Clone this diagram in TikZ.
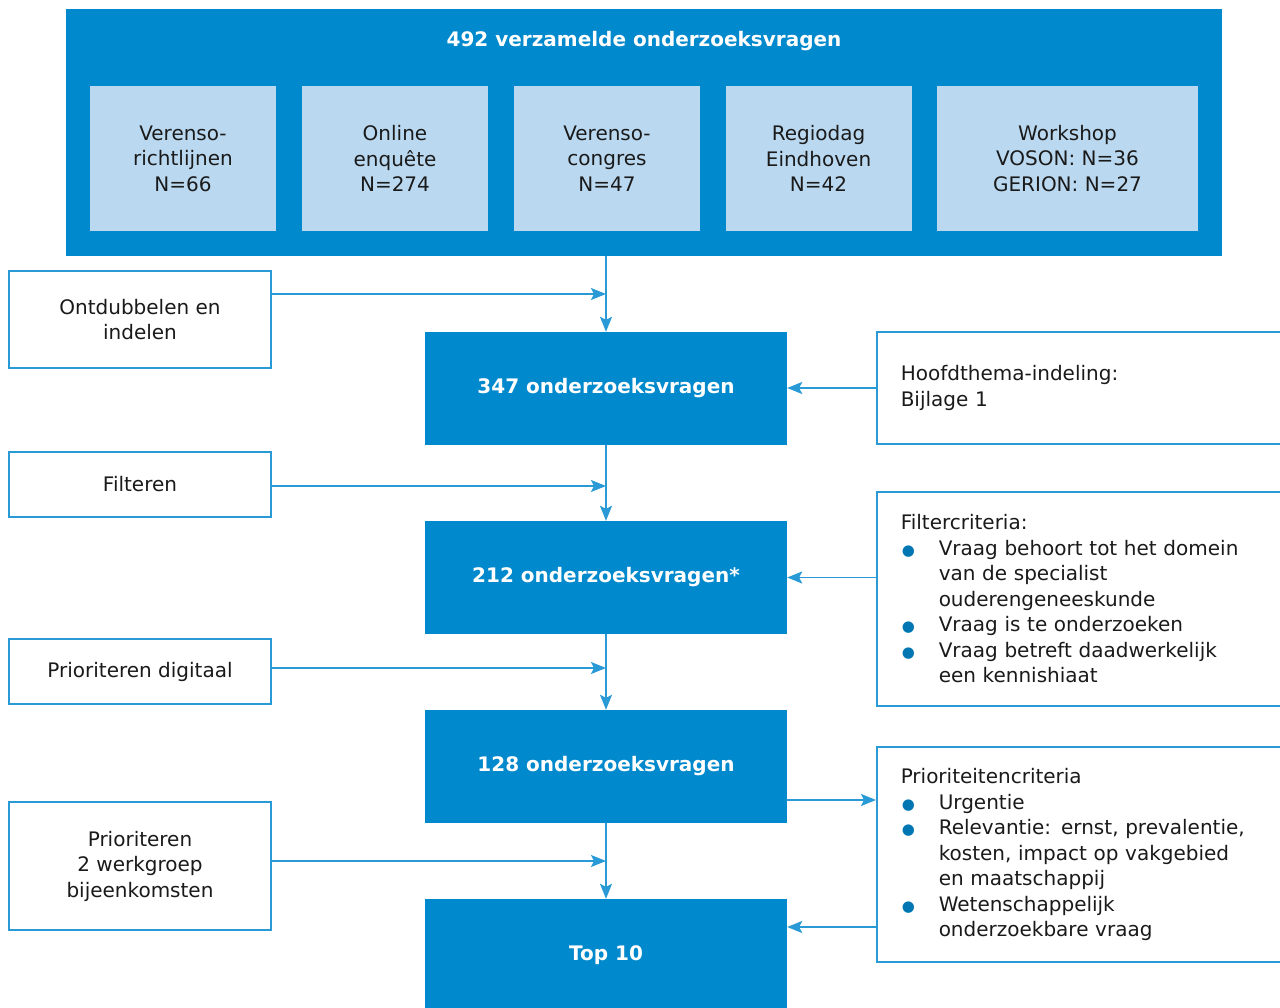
\documentclass[tikz,border=0pt]{standalone}
\usepackage{fontspec}
\setmainfont{DejaVu Sans}
\usetikzlibrary{arrows.meta}
\definecolor{vgblue}{HTML}{0089CC}
\definecolor{vglight}{HTML}{BAD9F1}
\definecolor{vgline}{HTML}{2A9AD6}
\definecolor{vgdot}{HTML}{0077B3}
\definecolor{vgtext}{HTML}{1A1A1A}
\newcommand\blt{\makebox[38pt][l]{\hspace{1pt}{\fontsize{15}{15}\selectfont\textcolor{vgdot}{●}}}}
\newcommand\ind{\hspace*{38pt}}

\begin{document}
\begin{tikzpicture}[x=1pt, y=-1pt,
  every node/.style={font=\fontsize{20}{25.5}\selectfont, text=vgtext},
  bron/.style={fill=vglight, minimum height=145pt, align=center, inner sep=0pt},
  stap/.style={draw=vgline, line width=1.5pt, fill=white, minimum width=262pt, align=center, inner sep=0pt},
  aantal/.style={fill=vgblue, minimum width=362pt, minimum height=113pt, text=white,
    font=\fontsize{20}{25.5}\selectfont\bfseries},
  crit/.style={draw=vgline, line width=1.5pt, anchor=west, text width=372pt, inner xsep=24pt, align=left},
  pijl/.style={draw=vgline, line width=1.5pt, -{Stealth[length=15pt,width=12pt,inset=3pt]}}]
  \useasboundingbox (0,0) rectangle (1280,1008);
  \clip (0,0) rectangle (1280,1008);

  \node[fill=vgblue, minimum width=1156pt, minimum height=247pt] (verz) at (644,132.5) {};
  \node[text=white, font=\fontsize{20}{25.5}\selectfont\bfseries] (titel) at (644,41.5) {492 verzamelde onderzoeksvragen};
  \foreach \x/\w/\naam/\tekst in {183/186pt/richtl/{Verenso-\\richtlijnen\\N=66},
      395/186pt/enq/{Online\\enquête\\N=274}, 607/186pt/congres/{Verenso-\\congres\\N=47},
      818.5/186pt/regio/{Regiodag\\Eindhoven\\N=42}, 1067.5/261pt/works/{Workshop\\VOSON: N=36\\GERION: N=27}}
    \node[bron, minimum width=\w] (\naam) at (\x,158.5) {\tekst};

  \node[stap, minimum height=97pt] (ontdub) at (140,319.5) {Ontdubbelen en\\indelen};
  \node[stap, minimum height=65pt] (filter) at (140,484.5) {Filteren};
  \node[stap, minimum height=65pt] (digi) at (140,671.5) {Prioriteren digitaal};
  \node[stap, minimum height=128pt] (werkgr) at (140,866) {Prioriteren\\2 werkgroep\\bijeenkomsten};

  \node[aantal] (n347) at (606,388.5) {\raisebox{-2pt}{347 onderzoeksvragen}};
  \node[aantal] (n212) at (606,577.5) {\raisebox{-2pt}{212 onderzoeksvragen*}};
  \node[aantal] (n128) at (606,766.5) {\raisebox{-2pt}{128 onderzoeksvragen}};
  \node[aantal] (top) at (606,955.5) {\raisebox{-2pt}{Top 10}};

  \node[crit, minimum height=112pt] (thema) at (876,388) {Hoofdthema-indeling:\\Bijlage 1};
  \node[crit, minimum height=214pt] (filtcrit) at (876,599) {Filtercriteria:\\
    \blt Vraag behoort tot het domein\\\ind van de specialist\\\ind ouderengeneeskunde\\
    \blt Vraag is te onderzoeken\\
    \blt Vraag betreft daadwerkelijk\\\ind een kennishiaat};
  \node[crit, minimum height=215pt] (priocrit) at (876,854.5) {Prioriteitencriteria\\
    \blt Urgentie\\
    \blt Relevantie: ernst, prevalentie,\\\ind kosten, impact op vakgebied\\\ind en maatschappij\\
    \blt Wetenschappelijk\\\ind onderzoekbare vraag};

  \coordinate (j1) at (606,294);
  \coordinate (j2) at (606,486);
  \coordinate (j3) at (606,668);
  \coordinate (j4) at (606,861);
  \coordinate (k1) at (876,800);
  \coordinate (k2) at (876,927);

  \draw[pijl] (verz.south -| n347) -- (n347.north);
  \draw[pijl] (n347) -- (n212);
  \draw[pijl] (n212) -- (n128);
  \draw[pijl] (n128) -- (top);
  \draw[pijl] (ontdub.east |- j1) -- (j1);
  \draw[pijl] (filter.east |- j2) -- (j2);
  \draw[pijl] (digi.east |- j3) -- (j3);
  \draw[pijl] (werkgr.east |- j4) -- (j4);
  \draw[pijl] (thema.west) -- (n347.east |- thema.west);
  \draw[pijl] (filtcrit.west |- n212) -- (n212.east);
  \draw[pijl] (n128.east |- k1) -- (k1);
  \draw[pijl] (k2) -- (top.east |- k2);
\end{tikzpicture}
\end{document}
